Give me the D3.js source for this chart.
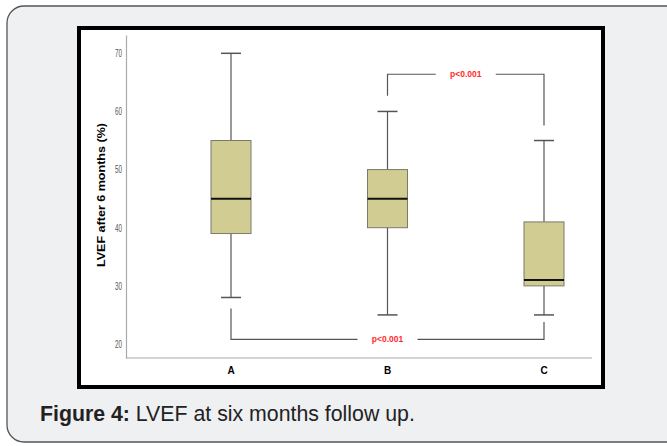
<!DOCTYPE html>
<html>
<head>
<meta charset="utf-8">
<script src="https://cdn.jsdelivr.net/npm/d3@7"></script>
<style>
  body { margin: 0; background: #fff; }
  svg { display: block; }
</style>
</head>
<body>
<svg id="fig" width="667" height="446"></svg>
<script>
// box plot values
var groups = ["A", "B", "C"];
var whiskerLow = [28, 25, 25];
var q1 = [39, 40, 30];
var median = [45, 45, 31];
var q3 = [55, 50, 41];
var whiskerHigh = [70, 60, 55];
var yTicks = [20, 30, 40, 50, 60, 70];

// significance brackets
var brFrom = ["B", "A"];
var brTo = ["C", "C"];
var brLevel = [66.4, 20.8];
var brFromEnd = [62.7, 26.1];
var brToEnd = [57.6, 23.8];
var brLabel = ["p<0.001", "p<0.001"];

var svg = d3.select("#fig");

// card background
svg.append("rect")
  .attr("x", 7).attr("y", 6)
  .attr("width", 680).attr("height", 436)
  .attr("rx", 17)
  .attr("fill", "#eff0f2")
  .attr("stroke", "#555")
  .attr("stroke-width", 1.3);

// chart frame
svg.append("rect")
  .attr("x", 79).attr("y", 28)
  .attr("width", 524).attr("height", 359)
  .attr("fill", "#fff")
  .attr("stroke", "#000")
  .attr("stroke-width", 4);

var pLeft = 126, pRight = 592, pTop = 35, pBottom = 358;

var y = d3.scaleLinear()
  .domain([17.59, 73.15])
  .range([pBottom, pTop]);

var x = d3.scalePoint()
  .domain(groups)
  .range([231, 544]);

var g = svg.append("g");

// axes
var yAxis = d3.axisLeft(y).tickValues(yTicks).tickSize(0).tickPadding(4);
var ya = g.append("g").attr("transform", "translate(" + pLeft + ",0)").call(yAxis);
ya.select(".domain").attr("stroke", "#aaa").attr("stroke-width", 1.2);
ya.selectAll(".tick text")
  .attr("fill", "#555")
  .attr("textLength", 7)
  .attr("lengthAdjust", "spacingAndGlyphs")
  .style("font-family", "'Liberation Sans Narrow', 'Liberation Sans', sans-serif")
  .style("font-size", "10.5px");

g.append("line")
  .attr("x1", pLeft).attr("x2", pRight)
  .attr("y1", pBottom).attr("y2", pBottom)
  .attr("stroke", "#aaa").attr("stroke-width", 1.2);

g.selectAll(".xlab")
  .data(groups)
  .enter().append("text")
  .attr("class", "xlab")
  .attr("x", d => x(d))
  .attr("y", 374)
  .attr("text-anchor", "middle")
  .style("font-family", "'Liberation Sans', Arial, sans-serif")
  .style("font-weight", "bold")
  .style("font-size", "10px")
  .text(d => d);

g.append("text")
  .attr("transform", "translate(105,195) rotate(-90)")
  .attr("text-anchor", "middle")
  .attr("textLength", 144)
  .attr("lengthAdjust", "spacingAndGlyphs")
  .style("font-family", "'Liberation Sans', Arial, sans-serif")
  .style("font-weight", "bold")
  .style("font-size", "11.5px")
  .text("LVEF after 6 months (%)");

// boxes
var boxW = 40, capW = 20;
var boxes = g.selectAll(".box")
  .data(groups)
  .enter().append("g")
  .attr("class", "box");

boxes.append("line")
  .attr("x1", d => x(d)).attr("x2", d => x(d))
  .attr("y1", (d, i) => y(whiskerLow[i]))
  .attr("y2", (d, i) => y(whiskerHigh[i]))
  .attr("stroke", "#555").attr("stroke-width", 1.2);

boxes.selectAll(".cap")
  .data((d, i) => [whiskerLow[i], whiskerHigh[i]].map(v => ({ k: d, v: v })))
  .enter().append("line")
  .attr("x1", d => x(d.k) - capW / 2).attr("x2", d => x(d.k) + capW / 2)
  .attr("y1", d => y(d.v)).attr("y2", d => y(d.v))
  .attr("stroke", "#555").attr("stroke-width", 1.5);

boxes.append("rect")
  .attr("x", d => x(d) - boxW / 2)
  .attr("y", (d, i) => y(q3[i]))
  .attr("width", boxW)
  .attr("height", (d, i) => y(q1[i]) - y(q3[i]))
  .attr("fill", "#d1cc91")
  .attr("stroke", "#7a7a6a").attr("stroke-width", 1);

boxes.append("line")
  .attr("x1", d => x(d) - boxW / 2).attr("x2", d => x(d) + boxW / 2)
  .attr("y1", (d, i) => y(median[i])).attr("y2", (d, i) => y(median[i]))
  .attr("stroke", "#111").attr("stroke-width", 2);

// significance brackets
brLabel.forEach(function(lab, i) {
  var x1 = x(brFrom[i]), x2 = x(brTo[i]), yl = y(brLevel[i]);
  g.append("path")
    .attr("d", "M" + x1 + "," + y(brFromEnd[i]) + "V" + yl + "H" + x2 + "V" + y(brToEnd[i]))
    .attr("fill", "none")
    .attr("stroke", "#555").attr("stroke-width", 1.2);
  // label sits mid-bracket for the top one, above group B for the long one
  var cx = i === 0 ? (x1 + x2) / 2 : x(brFrom[0]);
  g.append("rect")
    .attr("x", cx - 30).attr("y", yl - 5)
    .attr("width", 60).attr("height", 10)
    .attr("fill", "#fff");
  g.append("text")
    .attr("x", cx).attr("y", yl + 3)
    .attr("text-anchor", "middle")
    .attr("fill", "#ff2b2b")
    .style("font-family", "'Liberation Sans', Arial, sans-serif")
    .style("font-weight", "bold")
    .style("font-size", "8.5px")
    .text(lab);
});

// caption
var cap = svg.append("text")
  .attr("x", 40).attr("y", 421)
  .style("font-family", "'Liberation Sans', Arial, sans-serif")
  .style("font-size", "21.3px")
  .attr("fill", "#222");
cap.append("tspan").style("font-weight", "bold").text("Figure 4:");
cap.append("tspan").text(" LVEF at six months follow up.");
</script>
</body>
</html>
